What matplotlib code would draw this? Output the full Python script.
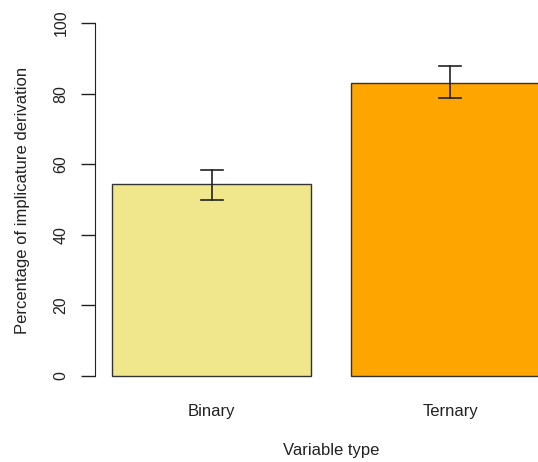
import matplotlib
matplotlib.use("Agg")
import matplotlib.pyplot as plt

categories = ["Binary", "Ternary"]
values = [54.4, 83.1]
err_low = [49.9, 78.8]
err_high = [58.4, 87.8]
colors = ["#F0E68C", "#FFA500"]
yticks = [0, 20, 40, 60, 80, 100]

plt.rcParams['font.family'] = ['Liberation Sans', 'DejaVu Sans']

W, H = 538, 462
fig = plt.figure(figsize=(W/100, H/100), dpi=100)
ppu = (376 - 23) / 100.0
y_lo, y_hi = -4, 104
top_px = 23 - (y_hi - 100) * ppu
bot_px = 376 + (0 - y_lo) * ppu
ax = fig.add_axes([95/W, 1 - bot_px/H, (567-95)/W, (bot_px-top_px)/H])
ax.set_xlim(0.112, 2.488)
ax.set_ylim(y_lo, y_hi)

pos = [0.7, 1.9]
ax.bar(pos, values, width=1.0, color=colors, edgecolor="#333333", linewidth=1.0)
for p, lo, hi in zip(pos, err_low, err_high):
    ax.plot([p, p], [lo, hi], color="#222222", lw=1.2)
    ax.plot([p-0.055, p+0.055], [lo, lo], color="#222222", lw=1.2)
    ax.plot([p-0.055, p+0.055], [hi, hi], color="#222222", lw=1.2)

for s in ["top", "right", "bottom"]:
    ax.spines[s].set_visible(False)
ax.spines["left"].set_bounds(0, 100)
ax.spines["left"].set_color("#222222")
ax.set_yticks(yticks)
ax.set_yticklabels([str(t) for t in yticks], rotation=90, va="center", fontsize=11.5, color="#222222")
ax.tick_params(axis="y", length=10, width=1, pad=9, color="#222222")
ax.set_xticks(pos)
ax.set_xticklabels(categories, fontsize=12, color="#222222")
ax.tick_params(axis="x", length=0, pad=10)

fig.text(331/W, 1 - 450/H, "Variable type", ha="center", va="center", fontsize=12, color="#222222")
fig.text(23/W, 1 - 200/H, "Percentage of implicature derivation", ha="center", va="center",
         rotation=90, fontsize=12, color="#222222")

fig.savefig("out.png", dpi=100)
